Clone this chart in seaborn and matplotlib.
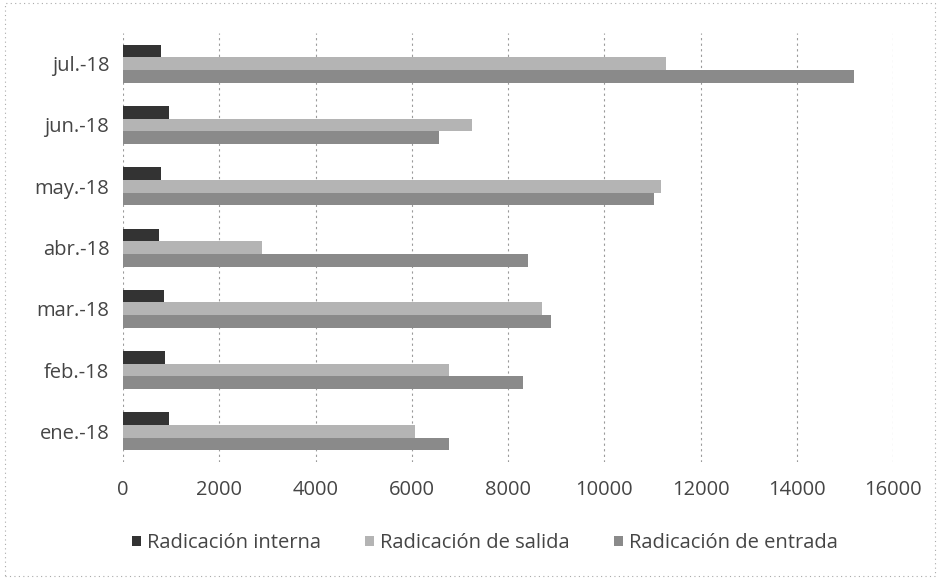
import pandas as pd
import seaborn as sns
import matplotlib.pyplot as plt
from matplotlib.patches import Rectangle

# Monthly filings by type.
months = ["jul.-18", "jun.-18", "may.-18", "abr.-18", "mar.-18", "feb.-18", "ene.-18"]
series = ["Radicación interna", "Radicación de salida", "Radicación de entrada"]
interna = [790, 950, 790, 750, 850, 880, 950]
salida = [11280, 7250, 11180, 2880, 8700, 6780, 6070]
entrada = [15190, 6570, 11030, 8420, 8900, 8310, 6780]
colors = ["#333333", "#b4b4b4", "#8a8a8a"]
xticks = [0, 2000, 4000, 6000, 8000, 10000, 12000, 14000, 16000]

df = pd.DataFrame({
    "mes": months * 3,
    "tipo": [series[0]] * 7 + [series[1]] * 7 + [series[2]] * 7,
    "valor": interna + salida + entrada,
})

sns.set_style("white")
plt.rcParams["font.family"] = ["Open Sans", "DejaVu Sans"]

fig = plt.figure(figsize=(9.4, 5.79), dpi=100)
ax = fig.add_axes([0.131, 0.202, 0.819, 0.741])

sns.barplot(
    data=df, x="valor", y="mes", hue="tipo",
    order=months, hue_order=series, palette=colors,
    orient="h", width=0.62, saturation=1, edgecolor="none",
    errorbar=None, ax=ax,
)

ax.set_xlim(0, 16000)
ax.set_xticks(xticks)
ax.set_xticklabels([str(t) for t in xticks])
ax.set_xlabel("")
ax.set_ylabel("")
ax.tick_params(axis="x", length=0, pad=13, labelsize=14.5, labelcolor="#454545")
ax.tick_params(axis="y", length=0, pad=10, labelsize=14.5, labelcolor="#454545")
ax.xaxis.grid(True, linestyle=(0, (2, 3)), color="#9a9a9a", linewidth=0.8)
ax.set_axisbelow(True)
for s in ax.spines.values():
    s.set_visible(False)

handles, labels = ax.get_legend_handles_labels()
ax.get_legend().remove()
fig.legend(
    handles, labels, loc="center", bbox_to_anchor=(0.516, 0.062), ncol=3,
    frameon=False, fontsize=14.5, handlelength=0.45, handleheight=0.45,
    handletextpad=0.3, columnspacing=2.2, labelcolor="#454545",
)

# faint dotted chart border, as in the scanned original
fig.patches.append(Rectangle((0.005, 0.005), 0.99, 0.99, transform=fig.transFigure,
                             fill=False, linestyle=(0, (1, 3)), edgecolor="#aaaaaa",
                             linewidth=0.8))

fig.savefig("out.png", dpi=100)
